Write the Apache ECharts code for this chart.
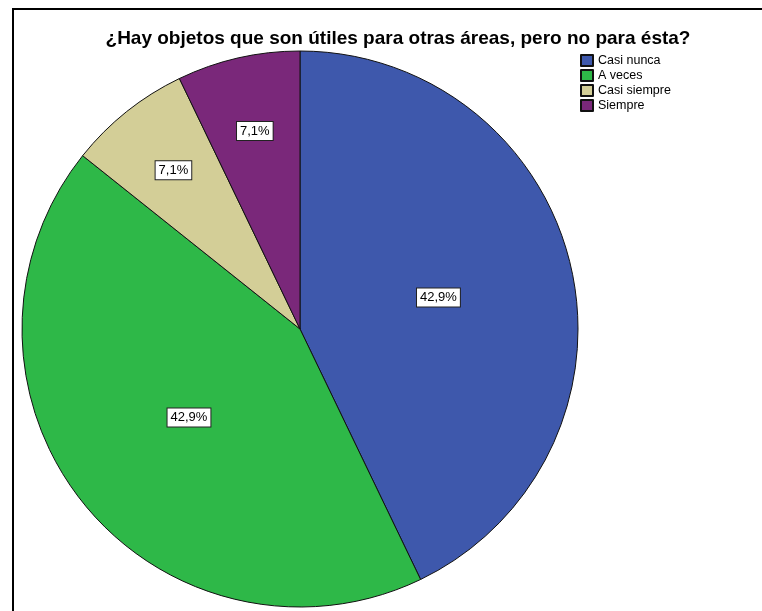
<!DOCTYPE html>
<html>
<head>
<meta charset="utf-8">
<script src="https://cdn.jsdelivr.net/npm/echarts@6/dist/echarts.min.js"></script>
<style>
  html, body { margin: 0; padding: 0; background: #fff; }
  #chart { width: 762px; height: 611px; }
  .frame { position: absolute; left: 12px; top: 8px; right: 0; bottom: 0; border-top: 2px solid #000; border-left: 2px solid #000; pointer-events: none; }
</style>
</head>
<body>
<div id="chart"></div>
<div class="frame"></div>
<script>
// categories and counts (percent labels come from these)
const categories = ['Casi nunca', 'A veces', 'Casi siempre', 'Siempre']
const counts = [6, 6, 1, 1]
const colors = ['#3E58AC', '#2EB848', '#D3CE97', '#7A287A']
const title = '¿Hay objetos que son útiles para otras áreas, pero no para ésta?'

const total = counts.reduce((a, b) => a + b, 0)
const pctText = v => (v / total * 100).toFixed(1).replace('.', ',') + '%'
const isBig = v => v / total > 0.2

const font = 'Liberation Sans, Arial, sans-serif'
const labelBox = {
  color: '#000',
  fontFamily: font,
  fontSize: 13,
  backgroundColor: '#fff',
  borderColor: '#222',
  borderWidth: 1,
  padding: [3, 3, 2, 3],
  formatter: p => pctText(p.value),
}

const chart = echarts.init(document.getElementById('chart'))
chart.setOption({
  animation: false,
  title: {
    text: title,
    left: 393,
    textAlign: 'center',
    top: 24,
    textStyle: { fontFamily: font, fontSize: 19, fontWeight: 'bold', color: '#000' },
  },
  legend: {
    orient: 'vertical',
    left: 575,
    top: 49,
    itemWidth: 12,
    itemHeight: 11,
    itemGap: 2,
    icon: 'rect',
    data: categories,
    textStyle: { fontFamily: font, fontSize: 12.5, color: '#000' },
  },
  series: [
    {
      type: 'pie',
      center: [300, 329],
      radius: [0, 278],
      startAngle: 90,
      clockwise: true,
      itemStyle: { borderColor: '#111', borderWidth: 1 },
      label: { position: 'inside', ...labelBox },
      labelLine: { show: false },
      emphasis: { disabled: true },
      data: categories.map((name, i) => ({
        name,
        value: counts[i],
        itemStyle: { color: colors[i] },
        label: { show: isBig(counts[i]) },
      })),
    },
    {
      // transparent overlay only used to put the small-slice labels further out
      type: 'pie',
      center: [300, 329],
      radius: [122, 278],
      startAngle: 90,
      clockwise: true,
      silent: true,
      legendHoverLink: false,
      itemStyle: { color: 'transparent', borderWidth: 0 },
      label: { position: 'inside', ...labelBox },
      labelLine: { show: false },
      emphasis: { disabled: true },
      data: categories.map((name, i) => ({
        name: name + ' ',
        value: counts[i],
        label: { show: !isBig(counts[i]) },
      })),
    },
  ],
})
</script>
</body>
</html>
